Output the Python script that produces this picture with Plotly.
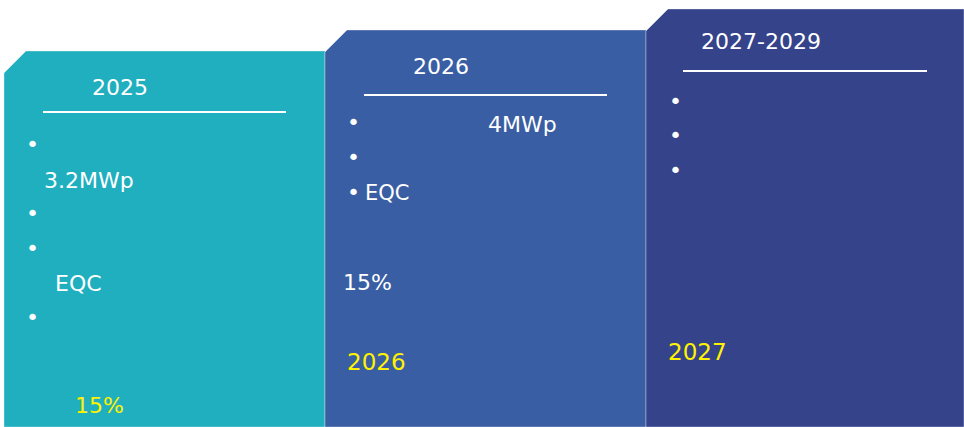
import plotly.graph_objects as go

# ---- data (text content) ----
panel_titles = ["2025", "2026", "2027-2029"]
panel_colors = ["#1FAFBF", "#3A5EA3", "#35438A"]
p1_texts = ["3.2MWp", "EQC"]
p1_highlight = "15%"
p2_texts = ["4MWp", "EQC", "15%"]
p2_highlight = "2026"
p3_highlight = "2027"
bullet = "•"

# ---- layout geometry ----
W, H = 964, 427
panels = [  # left, right, top
    (4, 325, 51),
    (325, 646, 30),
    (646, 964, 9),
]
chamfer = 22
title_pos = [(90, 87), (411, 66), (699, 41)]
rule_pos = [(43, 286, 112), (364, 607, 95), (683, 927, 71)]
FONT = "DejaVu Sans"
WHITE = "#FFFFFF"
YELLOW = "#FFF200"

fig = go.Figure()
shapes = []
for (l, r, t), c in zip(panels, panel_colors):
    path = f"M {l},{H} L {l},{t+chamfer} L {l+chamfer},{t} L {r},{t} L {r},{H} Z"
    shapes.append(dict(type="path", path=path, xref="x", yref="y",
                       fillcolor=c, line=dict(color="rgba(255,255,255,0.35)", width=1),
                       layer="below"))
for x0, x1, y in rule_pos:
    shapes.append(dict(type="line", x0=x0, x1=x1, y0=y, y1=y, xref="x", yref="y",
                       line=dict(color=WHITE, width=2)))

ann = []
def txt(x, y, s, size=22, color=WHITE):
    ann.append(dict(x=x, y=y, xref="x", yref="y", text=s, showarrow=False,
                    xanchor="left", yanchor="middle",
                    font=dict(family=FONT, size=size, color=color)))

for (x, y), s in zip(title_pos, panel_titles):
    txt(x, y, s)

BS = 22
# panel 1
for by in [144, 213, 248, 317]:
    txt(24, by, bullet, size=BS)
txt(42, 180, p1_texts[0])
txt(53, 283, p1_texts[1])
txt(73, 405, p1_highlight, color=YELLOW)

# panel 2
for by in [122, 157, 192]:
    txt(345, by, bullet, size=BS)
txt(486, 124, p2_texts[0])
txt(363, 193, p2_texts[1], size=21)
txt(341, 282, p2_texts[2])
txt(345, 362, p2_highlight, size=23, color=YELLOW)

# panel 3
for by in [101, 135, 170]:
    txt(667, by, bullet, size=BS)
txt(666, 352, p3_highlight, size=23, color=YELLOW)

fig.add_trace(go.Scatter(x=[0, W], y=[0, H], mode="markers",
                         marker=dict(opacity=0), hoverinfo="skip", showlegend=False))

fig.update_layout(
    width=W, height=H, margin=dict(l=0, r=0, t=0, b=0),
    paper_bgcolor="white", plot_bgcolor="white",
    shapes=shapes, annotations=ann, showlegend=False,
    xaxis=dict(range=[0, W], visible=False, fixedrange=True),
    yaxis=dict(range=[H, 0], visible=False, fixedrange=True),
)
fig.write_html("out.html", config={"displayModeBar": False},
               post_script="document.body.style.margin='0px';document.body.style.overflow='hidden';")
